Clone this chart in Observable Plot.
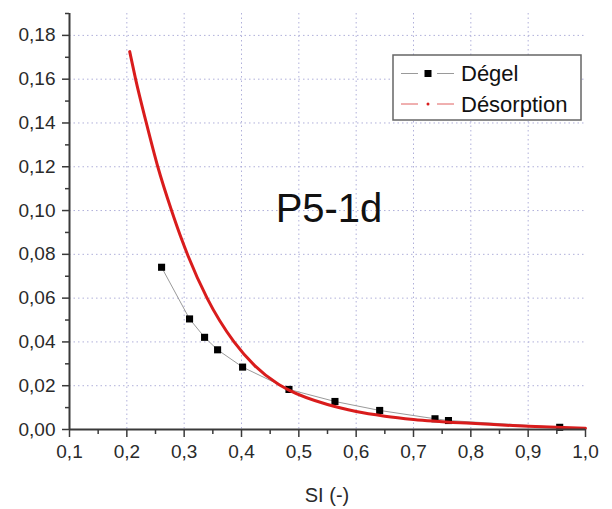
<!DOCTYPE html>
<html><head><meta charset="utf-8">
<script src="https://cdn.jsdelivr.net/npm/d3@7"></script>
<script src="https://cdn.jsdelivr.net/npm/@observablehq/plot@0.6"></script>
<style>
body{margin:0;background:#fff;font-family:"Liberation Sans",Arial,sans-serif;}
#wrap{position:relative;width:612px;height:509px;}
#overlay{position:absolute;left:0;top:0;pointer-events:none;}
</style></head>
<body><div id="wrap"></div>
<script>
// Dégel (measured points)
const degelX = [0.2606, 0.3094, 0.3356, 0.3583, 0.4019, 0.4828, 0.563, 0.641, 0.7375, 0.761, 0.955];
const degelY = [0.0741, 0.0505, 0.0421, 0.0364, 0.0285, 0.0183, 0.0128, 0.0087, 0.0049, 0.0041, 0.0010];
// Désorption (curve)
const desX = [0.205, 0.2153, 0.234, 0.254, 0.278, 0.294, 0.3065, 0.340, 0.387, 0.423, 0.4625, 0.4828, 0.55, 0.60, 0.65, 0.70, 0.80, 0.90, 1.00];
const desY = [0.1726, 0.160, 0.140, 0.120, 0.100, 0.088, 0.0795, 0.060, 0.040, 0.0292, 0.021, 0.0180, 0.0114, 0.0082, 0.0061, 0.0046, 0.0028, 0.0015, 0.0006];
// ticks
const xTicks = [0.1, 0.2, 0.3, 0.4, 0.5, 0.6, 0.7, 0.8, 0.9, 1.0];
const xMinor = [0.15, 0.25, 0.35, 0.45, 0.55, 0.65, 0.75, 0.85, 0.95];
const yTicks = [0, 0.02, 0.04, 0.06, 0.08, 0.10, 0.12, 0.14, 0.16, 0.18];
const yMinor = [0.01, 0.03, 0.05, 0.07, 0.09, 0.11, 0.13, 0.15, 0.17, 0.19];
const xGrid = [0.2, 0.3, 0.4, 0.5, 0.6, 0.7, 0.8, 0.9];
const yGrid = [0.02, 0.04, 0.06, 0.08, 0.10, 0.12, 0.14, 0.16, 0.18];
const seriesNames = ["Dégel", "Désorption"];
const chartTitle = "P5-1d";
const xLabel = "SI (-)";

const degel = degelX.map((x, i) => ({x, y: degelY[i]}));
const des = desX.map((x, i) => ({x, y: desY[i]}));
const fmtX = d => d.toFixed(1).replace(".", ",");
const fmtY = d => d.toFixed(2).replace(".", ",");
const axisColor = "#3a3a3a";
const gridStyle = {stroke: "#b0b0da", strokeOpacity: 1, strokeWidth: 1, strokeDasharray: "1.5,3"};

const chart = Plot.plot({
  width: 612, height: 509,
  marginLeft: 69, marginRight: 27, marginTop: 13, marginBottom: 80,
  x: {domain: [0.1, 1.0]},
  y: {domain: [0, 0.19]},
  style: {fontFamily: "'Liberation Sans', Arial, sans-serif", fontSize: "19px", color: "#2a2a2a", background: "#fff"},
  marks: [
    Plot.gridX({ticks: xGrid, ...gridStyle}),
    Plot.gridY({ticks: yGrid, ...gridStyle}),
    Plot.line(degel, {x: "x", y: "y", stroke: "#9a9a9a", strokeWidth: 1}),
    Plot.dot(degel, {x: "x", y: "y", symbol: "square", fill: "#000", stroke: "none", r: 4}),
    Plot.line(des, {x: "x", y: "y", stroke: "#d91c1c", strokeWidth: 3, curve: "monotone-x"}),
    Plot.ruleX([0.1], {stroke: axisColor, strokeWidth: 2}),
    Plot.ruleY([0], {stroke: axisColor, strokeWidth: 2}),
    Plot.axisX({ticks: xTicks, tickFormat: fmtX, tickSize: 8, tickPadding: 7, stroke: axisColor, strokeWidth: 1.5,
      fontSize: 19, label: null}),
    Plot.axisX({ticks: xMinor, tickFormat: () => "", tickSize: 5, stroke: axisColor, strokeWidth: 1.5, label: null}),
    Plot.axisY({ticks: yTicks, tickFormat: fmtY, tickSize: 7, tickPadding: 7, stroke: axisColor, strokeWidth: 1.5,
      fontSize: 19, label: null}),
    Plot.axisY({ticks: yMinor, tickFormat: () => "", tickSize: 4, stroke: axisColor, strokeWidth: 1.5, label: null})
  ]
});
const wrap = document.getElementById("wrap");
wrap.appendChild(chart);

// overlay: axis title, title inside plot and legend box
const ov = d3.select(wrap).append("svg").attr("id", "overlay").attr("width", 612).attr("height", 509)
  .attr("font-family", "'Liberation Sans', Arial, sans-serif");
ov.append("text").attr("x", 327).attr("y", 502).attr("text-anchor", "middle")
  .attr("font-size", 20).attr("fill", "#2a2a2a").text(xLabel);
ov.append("text").attr("x", 329).attr("y", 222).attr("text-anchor", "middle")
  .attr("font-size", 40).attr("fill", "#111").text(chartTitle);
const lg = ov.append("g").attr("transform", "translate(393,55)");
lg.append("rect").attr("x", 0).attr("y", 0).attr("width", 188).attr("height", 65)
  .attr("fill", "#fff").attr("stroke", "#666").attr("stroke-width", 1.5);
// row 1
lg.append("line").attr("x1", 8).attr("x2", 25).attr("y1", 18.5).attr("y2", 18.5).attr("stroke", "#9a9a9a");
lg.append("line").attr("x1", 44).attr("x2", 61).attr("y1", 18.5).attr("y2", 18.5).attr("stroke", "#9a9a9a");
lg.append("rect").attr("x", 31.5).attr("y", 15).attr("width", 7).attr("height", 7).attr("fill", "#000");
lg.append("text").attr("x", 68).attr("y", 26).attr("font-size", 22).attr("fill", "#111").text(seriesNames[0]);
// row 2
lg.append("line").attr("x1", 8).attr("x2", 25).attr("y1", 49).attr("y2", 49).attr("stroke", "#e06060");
lg.append("line").attr("x1", 44).attr("x2", 61).attr("y1", 49).attr("y2", 49).attr("stroke", "#e06060");
lg.append("circle").attr("cx", 35).attr("cy", 49).attr("r", 1.5).attr("fill", "#d91c1c");
lg.append("text").attr("x", 68).attr("y", 57).attr("font-size", 22).attr("fill", "#111").text(seriesNames[1]);
</script>
</body></html>
